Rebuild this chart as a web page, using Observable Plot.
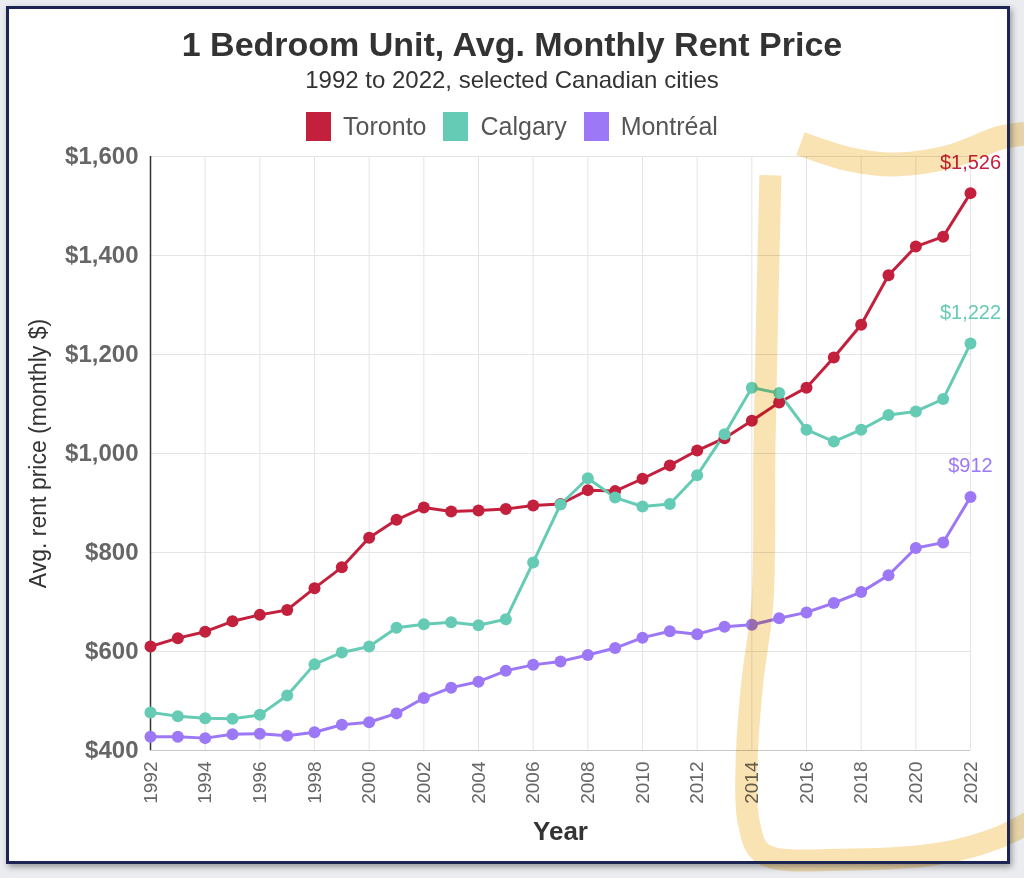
<!DOCTYPE html>
<html><head><meta charset="utf-8">
<script src="https://cdn.jsdelivr.net/npm/d3@7"></script>
<script src="https://cdn.jsdelivr.net/npm/@observablehq/plot@0.6"></script>
<style>
html,body{margin:0;padding:0;background:#ebecef;}
#wrap{position:relative;width:1024px;height:878px;overflow:hidden;font-family:"Liberation Sans",Arial,sans-serif;}
#frame{position:absolute;left:6px;top:6px;width:1004px;height:858px;background:#fff;box-shadow:2px 3px 6px rgba(0,0,0,0.35);}
#border{position:absolute;left:6px;top:6px;width:1004px;height:858px;border:3px solid #1c2553;box-sizing:border-box;pointer-events:none;}
#title{position:absolute;left:0;width:1024px;top:24px;line-height:40px;text-align:center;font-size:34px;font-weight:bold;color:#333;}
#subtitle{position:absolute;left:0;width:1024px;top:65px;line-height:30px;text-align:center;font-size:24px;color:#333;}
#legend{position:absolute;left:0;width:1024px;top:110px;height:32px;display:flex;justify-content:center;gap:17px;font-size:25px;color:#555;}
#legend .item{display:flex;align-items:center;gap:12px;}
#legend .sw{width:25px;height:29px;display:inline-block;}
#plot{position:absolute;left:0;top:0;}
</style></head>
<body>
<div id="wrap">
<div id="frame"></div>
<div id="plot"></div>
<div id="title">1 Bedroom Unit, Avg. Monthly Rent Price</div>
<div id="subtitle">1992 to 2022, selected Canadian cities</div>
<div id="legend"></div>
<div id="border"></div>
</div>
<script>
const years = [1992,1993,1994,1995,1996,1997,1998,1999,2000,2001,2002,2003,2004,2005,2006,2007,2008,2009,2010,2011,2012,2013,2014,2015,2016,2017,2018,2019,2020,2021,2022];
const cities = ["Toronto","Calgary","Montréal"];
const colors = ["#c2203c","#66cbb4","#9c78f6"];
const toronto = [610,627,640,661,674,684,728,770,830,866,891,883,885,888,895,898,926,924,949,976,1006,1031,1066,1103,1133,1194,1260,1360,1418,1438,1526];
const calgary = [477,469,465,464,472,511,574,598,610,648,655,659,653,665,780,897,950,911,893,898,956,1039,1133,1122,1048,1024,1048,1078,1085,1110,1222];
const montreal = [428,428,425,433,434,430,437,452,457,475,506,527,539,561,573,580,593,607,628,641,635,650,654,667,679,698,720,754,809,820,912];
const yTicks = [400,600,800,1000,1200,1400,1600];
const xTicks = [1992,1994,1996,1998,2000,2002,2004,2006,2008,2010,2012,2014,2016,2018,2020,2022];
// hand-drawn highlighter strokes (year, value)
const highlightVertical = [[2014.68,1562],[2014.57,1307],[2014.46,1004],[2014.39,701],[2014.02,539],[2013.81,378],[2013.88,257],[2014.39,192],[2017.61,180],[2020.9,192],[2023.1,226],[2024.2,257]];
const highlightTop = [[2015.78,1626],[2017.61,1594],[2019.26,1584],[2021.27,1600],[2023.1,1638],[2023.98,1646]];

const series = [toronto, calgary, montreal];
const rows = [];
cities.forEach((c,i)=>years.forEach((y,j)=>rows.push({city:c, year:y, value:series[i][j]})));
const last = cities.map((c,i)=>({city:c, year:years[years.length-1], value:series[i][years.length-1]}));
const fmt = d3.format(",");

const leg = document.getElementById("legend");
cities.forEach((c,i)=>{
  const it=document.createElement("div");it.className="item";
  it.innerHTML=`<span class="sw" style="background:${colors[i]}"></span><span>${c}</span>`;
  leg.appendChild(it);
});

const hl = (arr, key) => arr.map(p=>({year:p[0], value:p[1], k:key}));

const chart = Plot.plot({
  width:1024, height:878,
  marginLeft:150, marginRight:54, marginTop:156, marginBottom:128,
  style:{fontFamily:"'Liberation Sans', Arial, sans-serif", background:"transparent"},
  x:{domain:[1992,2022]},
  y:{domain:[400,1600]},
  color:{domain:cities, range:colors},
  marks:[
    Plot.gridY(yTicks, {stroke:"#e4e4e4", strokeOpacity:1}),
    Plot.gridX(xTicks, {stroke:"#e4e4e4", strokeOpacity:1}),
    Plot.ruleY([400], {stroke:"#c8c8c8"}),
    Plot.ruleX([1992], {stroke:"#333", strokeWidth:1.5}),
    Plot.axisY({ticks:yTicks, tickFormat:d=>"$"+fmt(d), tickSize:0, tickPadding:12, fontSize:24, fontWeight:"bold", color:"#666", label:null}),
    Plot.axisX({ticks:xTicks, tickFormat:d=>String(d), tickRotate:-90, tickSize:0, tickPadding:11, fontSize:19, color:"#666", label:null}),
    Plot.line(rows, {x:"year", y:"value", z:"city", stroke:"city", strokeWidth:3}),
    Plot.dot(rows, {x:"year", y:"value", fill:"city", r:6}),
    Plot.text(last, {x:"year", y:"value", text:d=>"$"+fmt(d.value), fill:"city", dy:-31, fontSize:20}),
    Plot.text(["Year"], {frameAnchor:"bottom", dy:89, fontSize:26, fontWeight:"bold", fill:"#333"}),
    Plot.text(["Avg. rent price (monthly $)"], {frameAnchor:"left", textAnchor:"middle", rotate:-90, dx:-112, fontSize:23, fill:"#333"}),
    Plot.line(hl(highlightVertical,"v"), {x:"year", y:"value", curve:"catmull-rom", stroke:"#f5c768", strokeOpacity:0.5, strokeWidth:22, strokeLinecap:"butt", mixBlendMode:"multiply"}),
    Plot.line(hl(highlightTop,"t"), {x:"year", y:"value", curve:"catmull-rom", stroke:"#f5c768", strokeOpacity:0.5, strokeWidth:24, strokeLinecap:"butt", mixBlendMode:"multiply"})
  ]
});
document.getElementById("plot").appendChild(chart);
</script>
</body></html>
